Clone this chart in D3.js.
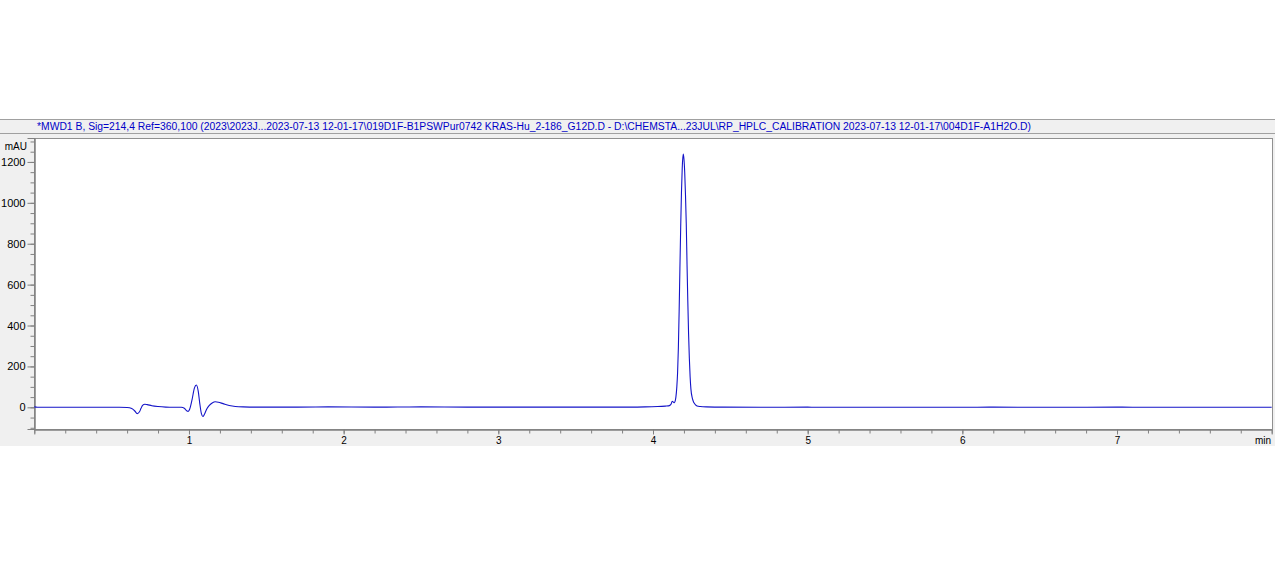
<!DOCTYPE html>
<html>
<head>
<meta charset="utf-8">
<script src="https://cdn.jsdelivr.net/npm/d3@7"></script>
<style>
  html, body { margin: 0; padding: 0; background: #ffffff; }
  svg { display: block; }
</style>
</head>
<body>
<svg id="chart" width="1275" height="564"></svg>
<script>
// ---- data ----
const headerText = "*MWD1 B, Sig=214,4 Ref=360,100 (2023\\2023J...2023-07-13 12-01-17\\019D1F-B1PSWPur0742 KRAS-Hu_2-186_G12D.D - D:\\CHEMSTA...23JUL\\RP_HPLC_CALIBRATION 2023-07-13 12-01-17\\004D1F-A1H2O.D)";
const yUnit = "mAU";
const xUnit = "min";
const xTickLabels = [1, 2, 3, 4, 5, 6, 7];
const yTickLabels = [0, 200, 400, 600, 800, 1000, 1200];

const timeMin = [
  0.00, 0.02, 0.30, 0.55, 0.60, 0.63, 0.65, 0.665, 0.68, 0.69, 0.70, 0.715, 0.73, 0.76, 0.80, 0.85, 0.90,
  0.95, 0.97, 0.985, 0.995, 1.005, 1.02, 1.035, 1.048, 1.06, 1.07, 1.08, 1.09, 1.10, 1.115, 1.13, 1.15,
  1.17, 1.19, 1.22, 1.26, 1.30, 1.35, 1.45, 1.70, 1.90, 2.20, 2.50, 2.80, 3.20, 3.60, 3.85, 3.95, 4.03,
  4.08, 4.10, 4.110, 4.118, 4.124, 4.130, 4.136, 4.142, 4.148, 4.154, 4.159, 4.164, 4.169, 4.174, 4.179,
  4.184, 4.189, 4.195, 4.200, 4.205, 4.210, 4.215, 4.220, 4.225, 4.230, 4.235, 4.240, 4.245, 4.255,
  4.265, 4.275, 4.285, 4.305, 4.345, 4.45, 4.70, 5.00, 5.05, 5.10, 5.50, 6.00, 6.20, 6.60, 7.00, 7.20,
  7.60, 8.00
];
const signalMAU = [
  2, 0, 0, 0, -1, -6, -18, -31, -22, -5, 9, 15, 13, 8, 4, 1, 0,
  0, -4, -17, -20, -8, 38, 94, 109, 78, 18, -30, -45, -34, -8, 8, 21,
  27, 25, 18, 9, 4, 2, 1, 1, 2, 1, 2, 1, 1, 1, 1, 2, 4,
  6, 7, 10, 18, 30, 27, 22, 28, 50, 100, 170, 290, 470, 680, 880,
  1050, 1170, 1238, 1215, 1150, 1040, 900, 700, 520, 360, 240, 150, 90, 42,
  22, 12, 7, 4, 2, 1, 0, 1, 0, 0, 0, 0, 1, 0, 1, 0,
  0, 0
];

// ---- layout ----
const svg = d3.select("#chart");
const W = 1275;
const panelTop = 119, panelBottom = 446;
const plotLeft = 34.3, plotRight = 1271.7, plotTop = 138, plotBottom = 429;

const x = d3.scaleLinear().domain([0, 8]).range([plotLeft, plotRight]);
const y = d3.scaleLinear().domain([-106, 1317]).range([plotBottom, plotTop]);

// panel background
svg.append("rect").attr("x", 0).attr("y", panelTop).attr("width", W).attr("height", panelBottom - panelTop)
  .attr("fill", "#f0f0f0");
// header bar borders
svg.append("line").attr("x1", 0).attr("x2", W).attr("y1", 119.5).attr("y2", 119.5).attr("stroke", "#a0a0a0");
svg.append("line").attr("x1", 0).attr("x2", W).attr("y1", 133.5).attr("y2", 133.5).attr("stroke", "#a0a0a0");
svg.append("text").attr("x", 37).attr("y", 130)
  .attr("font-family", "Liberation Sans, Arial, sans-serif").attr("font-size", 10)
  .attr("fill", "#0000c8")
  .attr("textLength", 994).attr("lengthAdjust", "spacingAndGlyphs")
  .text(headerText);

// plot area
svg.append("rect").attr("x", Math.round(plotLeft) + 0.5).attr("y", plotTop + 0.5)
  .attr("width", Math.round(plotRight) - Math.round(plotLeft)).attr("height", plotBottom - plotTop)
  .attr("fill", "#ffffff").attr("stroke", "#909090");

// y axis
const yMinor = d3.range(-100, 1301, 50);
const yAxisMinor = d3.axisLeft(y).tickValues(yMinor).tickSize(4).tickFormat("");
const gyMinor = svg.append("g").attr("transform", `translate(${Math.round(plotLeft) + 0.5},0)`).call(yAxisMinor);
const yAxis = d3.axisLeft(y).tickValues(yTickLabels).tickSize(7).tickPadding(2).tickFormat(d3.format("d"));
const gy = svg.append("g").attr("transform", `translate(${Math.round(plotLeft) + 0.5},0)`).call(yAxis);
[gy, gyMinor].forEach(g => {
  g.select(".domain").attr("stroke", "#808080");
  g.selectAll(".tick line").attr("stroke", "#808080");
  g.selectAll("text").attr("font-family", "Liberation Sans, Arial, sans-serif").attr("font-size", 11).attr("fill", "#000");
});
svg.append("text").attr("x", 27).attr("y", 150).attr("text-anchor", "end")
  .attr("font-family", "Liberation Sans, Arial, sans-serif").attr("font-size", 10).attr("fill", "#000")
  .text(yUnit);

// x axis
const xMinor = d3.range(0.2, 7.95, 0.2);
const xAxisMinor = d3.axisBottom(x).tickValues(xMinor).tickSize(4).tickFormat("");
const gxMinor = svg.append("g").attr("transform", `translate(0,${plotBottom + 0.5})`).call(xAxisMinor);
const xAxis = d3.axisBottom(x).tickValues(xTickLabels).tickSize(5).tickPadding(2).tickFormat(d3.format("d"));
const gx = svg.append("g").attr("transform", `translate(0,${plotBottom + 0.5})`).call(xAxis);
[gx, gxMinor].forEach(g => {
  g.select(".domain").attr("stroke", "#808080");
  g.selectAll(".tick line").attr("stroke", "#808080");
  g.selectAll("text").attr("font-family", "Liberation Sans, Arial, sans-serif").attr("font-size", 10).attr("fill", "#000");
});
svg.append("text").attr("x", 1271).attr("y", 444).attr("text-anchor", "end")
  .attr("font-family", "Liberation Sans, Arial, sans-serif").attr("font-size", 10).attr("fill", "#000")
  .text(xUnit);

// signal trace
const pts = timeMin.map((t, i) => [t, signalMAU[i]]);
const line = d3.line().x(d => x(d[0])).y(d => y(d[1])).curve(d3.curveMonotoneX);
svg.append("path").datum(pts).attr("d", line)
  .attr("fill", "none").attr("stroke", "#1414c8").attr("stroke-width", 1.1);
</script>
</body>
</html>
